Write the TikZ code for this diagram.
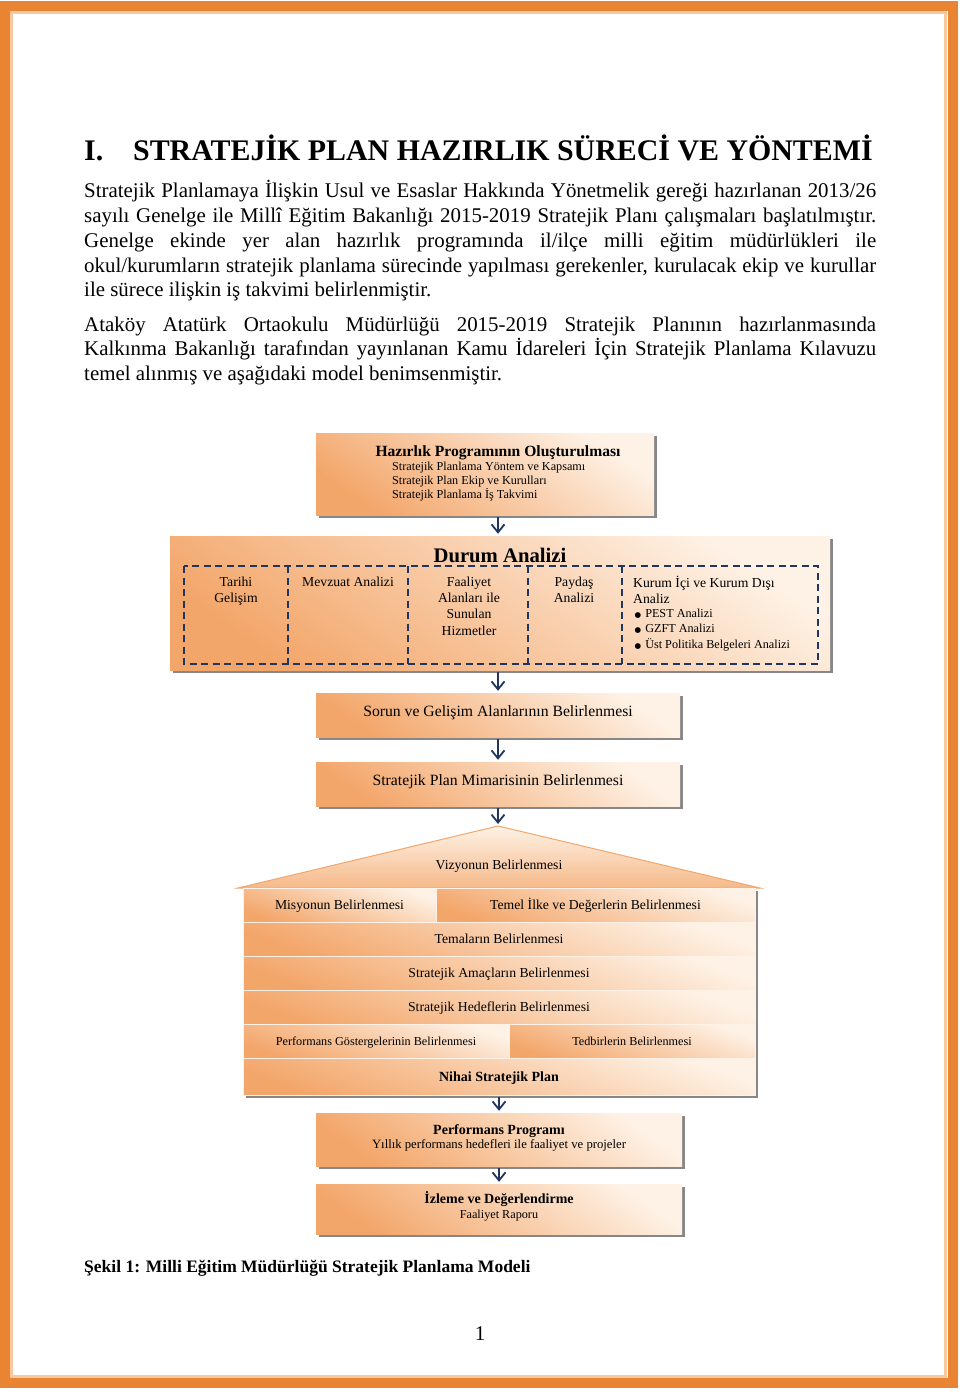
\documentclass[tikz,border=0pt]{standalone}
\usepackage{fontspec}
\setmainfont{Liberation Serif}
\newfontfamily\djv{DejaVu Sans}
\usetikzlibrary{arrows.meta,shadows}
\definecolor{frameor}{RGB}{232,132,50}
\definecolor{framelt}{RGB}{248,200,158}
\definecolor{pdark}{RGB}{243,166,106}
\definecolor{plight}{RGB}{254,242,230}
\definecolor{navy}{RGB}{33,54,94}
\definecolor{shadowc}{RGB}{135,135,135}
\newcommand\fsz[2]{\fontsize{#1pt}{#2pt}\selectfont}
\newcommand\bul{{\djv\fontsize{7.5pt}{8pt}\selectfont ●}\hspace{4pt}}
\tikzset{
  pbox/.style={rectangle, inner sep=0pt, top color=plight, bottom color=pdark, shading angle=-35,
    drop shadow={shadow xshift=3pt, shadow yshift=-3pt, fill=shadowc, opacity=1}},
  hrow/.style={rectangle, inner sep=0pt, draw=plight, line width=0.8pt, top color=plight, bottom color=pdark, shading angle=-20, font=\fsz{13.7}{16}, text height=9.5pt, text depth=0.5pt},
  arr/.style={draw=navy, line width=1.8pt, -{Straight Barb[length=8pt,width=13pt]}, shorten <=2pt, shorten >=2pt},
  dashb/.style={draw=navy, line width=1.8pt, dash pattern=on 7pt off 4.5pt},
  txt/.style={inner sep=0pt, anchor=base},
  bodyl/.style={inner sep=0pt, anchor=base west, font=\fsz{20.9}{24.5}},
  cellt/.style={inner sep=0pt, anchor=north, align=center, font=\fsz{13.7}{16.3}},
  midbox/.style={pbox, minimum width=364pt, minimum height=44pt, font=\fsz{15.7}{18}, text height=8pt, text depth=4.8pt},
}
\newcommand\jl[1]{\makebox[792pt][s]{#1}}
\begin{document}
\begin{tikzpicture}[x=1pt,y=-1pt]
\useasboundingbox (0,0) rectangle (960,1396);
\fill[white] (0,0) rectangle (960,1396);
% page frame
\draw[frameor, line width=10pt] (5,6.5) rectangle (952.5,1383);
\draw[framelt, line width=3pt] (11.5,12.5) rectangle (945.5,1376.5);

% heading and text
\node[bodyl, font=\fsz{29.9}{32}\bfseries] (title) at (84,160.5) {\makebox[49pt][l]{I.}STRATEJİK PLAN HAZIRLIK SÜRECİ VE YÖNTEMİ};
\node[bodyl] (p1) at (84,198) {\jl{Stratejik Planlamaya İlişkin Usul ve Esaslar Hakkında Yönetmelik gereği hazırlanan 2013/26}};
\node[bodyl] (p2) at (84,223) {\jl{sayılı Genelge ile Millî Eğitim Bakanlığı 2015-2019 Stratejik Planı çalışmaları başlatılmıştır.}};
\node[bodyl] (p3) at (84,248) {\jl{Genelge ekinde yer alan hazırlık programında il/ilçe milli eğitim müdürlükleri ile}};
\node[bodyl] (p4) at (84,272.5) {\jl{okul/kurumların stratejik planlama sürecinde yapılması gerekenler, kurulacak ekip ve kurullar}};
\node[bodyl] (p5) at (84,297) {ile sürece ilişkin iş takvimi belirlenmiştir.};
\node[bodyl] (p6) at (84,331) {\jl{Ataköy Atatürk Ortaokulu Müdürlüğü 2015-2019 Stratejik Planının hazırlanmasında}};
\node[bodyl] (p7) at (84,355.5) {\jl{Kalkınma Bakanlığı tarafından yayınlanan Kamu İdareleri İçin Stratejik Planlama Kılavuzu}};
\node[bodyl] (p8) at (84,380) {temel alınmış ve aşağıdaki model benimsenmiştir.};

% box 1
\node[pbox, minimum width=338pt, minimum height=82pt] (hp) at (485,474) {};
\node[txt, font=\fsz{15.6}{18}\bfseries] (hpt) at (498,456) {Hazırlık Programının Oluşturulması};
\node[inner sep=0pt, anchor=north west, align=left, font=\fsz{12.2}{14.2}] (hps) at (392,461.7) {Stratejik Planlama Yöntem ve Kapsamı\\Stratejik Plan Ekip ve Kurulları\\Stratejik Planlama İş Takvimi};

% durum analizi
\node[pbox, minimum width=660pt, minimum height=134pt] (da) at (500,603) {};
\node[txt, font=\fsz{20.7}{24}\bfseries] (dat) at (500,562) {Durum Analizi};
\draw[dashb] (184,566) rectangle (818,664);
\foreach \x in {288,408,528,622} \draw[dashb] (\x,566) -- (\x,664);
\node[cellt] (c1) at (236,576.5) {Tarihi\\Gelişim};
\node[cellt] (c2) at (348,576.5) {Mevzuat Analizi};
\node[cellt] (c3) at (469,576.5) {Faaliyet\\Alanları ile\\Sunulan\\Hizmetler};
\node[cellt] (c4) at (574,576.5) {Paydaş\\Analizi};
\node[cellt, anchor=north west, align=left] (c5) at (633,575.5) {Kurum İçi ve Kurum Dışı\\Analiz};
\node[inner sep=0pt, anchor=north west, align=left, font=\fsz{12.2}{15.5}] (c5b) at (634.5,608.5) {\bul PEST Analizi\\\bul GZFT Analizi\\\bul Üst Politika Belgeleri Analizi};

% sorun, mimari
\node[midbox] (sg) at (498,715) {Sorun ve Gelişim Alanlarının Belirlenmesi};
\node[midbox] (mm) at (498,784) {Stratejik Plan Mimarisinin Belirlenmesi};

% house
\coordinate (apex) at (498,826);
\coordinate (rl) at (238,888);
\coordinate (rr) at (760,888);
\fill[shadowc] (246,891) rectangle (758,1098);
\shade[top color=plight, bottom color=pdark!75!plight, draw=pdark, line width=1pt] (rl) -- (apex) -- (rr) -- cycle;
\node[txt, font=\fsz{13.7}{16}] (viz) at (499,869.5) {Vizyonun Belirlenmesi};
\node[hrow, minimum width=193pt, minimum height=34pt] (mis) at (339.5,905) {Misyonun Belirlenmesi};
\node[hrow, minimum width=319pt, minimum height=34pt] (tem) at (595.5,905) {Temel İlke ve Değerlerin Belirlenmesi};
\node[hrow, minimum width=512pt, minimum height=34pt] (tema) at (499,939) {Temaların Belirlenmesi};
\node[hrow, minimum width=512pt, minimum height=34pt] (amac) at (499,973) {Stratejik Amaçların Belirlenmesi};
\node[hrow, minimum width=512pt, minimum height=34pt] (hedef) at (499,1007) {Stratejik Hedeflerin Belirlenmesi};
\node[hrow, minimum width=266pt, minimum height=34pt, font=\fsz{12.2}{14}] (pg) at (376,1041) {Performans Göstergelerinin Belirlenmesi};
\node[hrow, minimum width=246pt, minimum height=34pt, font=\fsz{12.2}{14}] (ted) at (632,1041) {Tedbirlerin Belirlenmesi};
\node[hrow, minimum width=512pt, minimum height=37pt, font=\fsz{14}{16}\bfseries] (nihai) at (499,1076.5) {Nihai Stratejik Plan};

% performans, izleme
\node[pbox, minimum width=366pt, minimum height=53pt] (pp) at (499,1139.5) {};
\node[txt, font=\fsz{14}{16}\bfseries] (ppt) at (499,1134.5) {Performans Programı};
\node[txt, font=\fsz{12.7}{15}] (pps) at (499,1148) {Yıllık performans hedefleri ile faaliyet ve projeler};
\node[pbox, minimum width=366pt, minimum height=50pt] (iz) at (499,1209) {};
\node[txt, font=\fsz{14}{16}\bfseries] (izt) at (499,1203.5) {İzleme ve Değerlendirme};
\node[txt, font=\fsz{12.2}{15}] (izs) at (499,1218) {Faaliyet Raporu};

% arrows
\draw[arr] (hp.south -| sg.center) -- (da.north -| sg.center);
\draw[arr] (da.south -| sg.center) -- (sg.north);
\draw[arr] (sg.south) -- (mm.north);
\draw[arr] (mm.south) -- (apex);
\draw[arr] (nihai.south) -- (pp.north);
\draw[arr] (pp.south) -- (iz.north);

% caption and page number
\node[bodyl, font=\fsz{17.5}{20}\bfseries] (cap) at (84,1272) {Şekil 1: Milli Eğitim Müdürlüğü Stratejik Planlama Modeli};
\node[txt, font=\fsz{20.9}{24}] (pnum) at (480,1340) {1};
\end{tikzpicture}
\end{document}
